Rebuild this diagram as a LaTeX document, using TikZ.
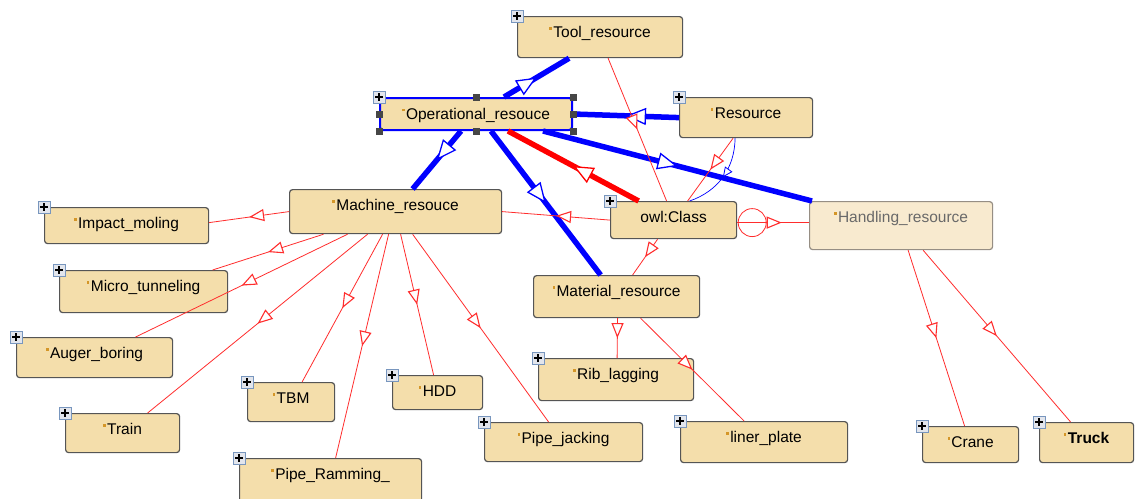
\documentclass[tikz,border=0pt]{standalone}
\usepackage{fontspec}
\setsansfont{Liberation Sans}
\usetikzlibrary{positioning,arrows.meta,decorations.markings}

\definecolor{boxfill}{RGB}{244,222,171}
\definecolor{boxline}{RGB}{85,85,85}
\definecolor{fadefill}{RGB}{248,234,207}
\definecolor{fadeline}{RGB}{150,142,132}
\definecolor{fadetext}{RGB}{105,105,105}
\definecolor{plusfill}{RGB}{226,229,236}
\definecolor{plusline}{RGB}{120,150,190}
\definecolor{dotc}{RGB}{212,150,40}
\definecolor{linered}{RGB}{255,45,45}
\definecolor{handlec}{RGB}{70,70,70}

\newcommand{\markdot}{{\color{dotc}\raisebox{0.5em}{\rule{2.4pt}{2.4pt}}}\hspace{1.5pt}}

\begin{document}
\begin{tikzpicture}[x=1pt, y=-1pt, font=\sffamily\fontsize{15.5}{18}\selectfont]
\tikzset{
  cls/.style={draw=boxline, fill=boxfill, rounded corners=3pt, line width=1.2pt, anchor=north west,
    inner xsep=4pt, inner ysep=9pt, text height=12pt},
  faded/.style={cls, draw=fadeline, fill=fadefill, text=fadetext},
  sel/.style={draw=blue, line width=2pt},
  plusbox/.style={anchor=center, sharp corners, draw=plusline, fill=plusfill, line width=0.9pt,
    minimum size=12pt, inner sep=0pt, text height=0pt, text depth=0pt,
    path picture={
      \draw[black, line width=1.4pt] ([xshift=-3.6pt]path picture bounding box.center) -- ([xshift=3.6pt]path picture bounding box.center);
      \draw[black, line width=1.4pt] ([yshift=-3.6pt]path picture bounding box.center) -- ([yshift=3.6pt]path picture bounding box.center);
    }},
  expand/.style={label={[plusbox]north west:{}}},
  subc/.style={draw=linered, line width=0.8pt, postaction={decorate},
    decoration={markings, mark=at position #1 with {\arrow{Triangle[fill=white, length=15pt, width=12pt, line width=1.1pt 0]}}}},
  subc/.default=0.5,
  subcbold/.style={line width=5.5pt, postaction={decorate},
    decoration={markings, mark=at position 0.5 with {\arrow{Triangle[fill=white, length=20pt, width=17pt, line width=1.3pt 0]}}}}
}
\useasboundingbox (0,0) rectangle (1135,498);
\fill[white] (0,0) rectangle (1135,498);
\clip (0,0) rectangle (1135,498);

% classes
\node[cls, expand, minimum width=165pt, text depth=11pt] (tool) at (517,16) {\markdot Tool\_resource};
\node[cls, sel, expand, minimum width=192pt, text depth=2pt] (oper) at (379,97) {\markdot Operational\_resouce};
\node[cls, expand, minimum width=133pt, text depth=10pt] (res) at (679,97) {\markdot Resource};
\node[cls, minimum width=212pt, text depth=14pt] (mach) at (289,189) {\markdot Machine\_resouce};
\node[cls, expand, minimum width=126pt, text depth=7pt] (owl) at (610,201) {owl:Class};
\node[faded, minimum width=183pt, text depth=18pt] (hand) at (809,201) {\markdot Handling\_resource};
\node[cls, minimum width=166pt, text depth=12pt] (mat) at (533,275) {\markdot Material\_resource};

\node[cls, expand, minimum width=164pt, text depth=6pt] (impact) at (44,207) {\markdot Impact\_moling};
\node[cls, expand, minimum width=168pt, text depth=12pt] (micro) at (59,270) {\markdot Micro\_tunneling};
\node[cls, expand, minimum width=156pt, text depth=10pt] (auger) at (16,337) {\markdot Auger\_boring};
\node[cls, expand, minimum width=114pt, text depth=9pt] (train) at (65,413) {\markdot Train};
\node[cls, expand, minimum width=87pt, text depth=9pt] (tbm) at (247,382) {\markdot TBM};
\node[cls, expand, minimum width=90pt, text depth=4pt] (hdd) at (392,375) {\markdot HDD};
\node[cls, expand, minimum width=158pt, text depth=9pt] (jack) at (484,422) {\markdot Pipe\_jacking};
\node[cls, expand, minimum width=182pt, text depth=20pt] (ramm) at (239,458) {\markdot Pipe\_Ramming\_};
\node[cls, expand, minimum width=155pt, text depth=12pt] (rib) at (538,358) {\markdot Rib\_lagging};
\node[cls, expand, minimum width=167pt, text depth=11pt] (liner) at (680,421) {\markdot liner\_plate};
\node[cls, expand, minimum width=96pt, text depth=6pt] (crane) at (922,426) {\markdot Crane};
\node[cls, expand, minimum width=94pt, text depth=10pt] (truck) at (1039,422) {\markdot\textbf{Truck}};

% thick subclass links
\draw[subcbold, blue] ([xshift=28pt]oper.north) -- ([xshift=-31pt]tool.south);
\draw[subcbold, blue] (res.west) -- (oper.east);
\draw[subcbold, blue] ([xshift=-15pt]oper.south) -- ([xshift=17pt]mach.north);
\draw[subcbold, blue] ([xshift=15pt]oper.south) -- ([xshift=-16pt]mat.north);
\draw[subcbold, blue] ([xshift=67pt]oper.south) -- ([xshift=3pt]hand.north west);
\draw[subcbold, red] ([xshift=-35pt]owl.north) -- ([xshift=32pt]oper.south);

% thin subclass links
\draw[subc] ([xshift=8pt]tool.south) -- ([xshift=-7pt]owl.north);
\draw[subc] ([xshift=-13pt]res.south) -- ([xshift=14pt]owl.north);
\draw[blue, line width=0.7pt, postaction={decorate},
  decoration={markings, mark=at position 0.5 with {\arrow{Triangle[fill=white, length=10pt, width=9pt, line width=0.8pt 0]}}}]
  ([xshift=-11pt]res.south) to[bend left=35] ([xshift=16pt]owl.north);
\draw[subc] (owl.west) -- (mach.east);
\draw[subc] ([xshift=-16pt]owl.south) -- ([xshift=16pt]mat.north);
\draw[subc=0.62] ([yshift=-2.5pt]owl.east) -- ([yshift=3pt]hand.west);
\draw[linered, line width=0.8pt] ([xshift=15pt, yshift=-2.5pt]owl.east) circle (14pt);

\draw[subc] (mach.west) -- ([yshift=3pt]impact.east);
\draw[subc] ([xshift=-72pt]mach.south) -- ([xshift=69pt]micro.north);
\draw[subc] ([xshift=-48pt]mach.south) -- ([xshift=41pt]auger.north);
\draw[subc] ([xshift=-28pt]mach.south) -- ([xshift=25pt]train.north);
\draw[subc] ([xshift=-13pt]mach.south) -- ([xshift=11pt]tbm.north);
\draw[subc] ([xshift=-7pt]mach.south) -- ([xshift=5pt]ramm.north);
\draw[subc] ([xshift=5pt]mach.south) -- ([xshift=-4pt]hdd.north);
\draw[subc] ([xshift=17pt]mach.south) -- ([xshift=-15pt]jack.north);

\draw[subc] ([xshift=1pt]mat.south) -- ([xshift=1pt]rib.north);
\draw[subc] ([xshift=24pt]mat.south) -- ([xshift=-20pt]liner.north);

\draw[subc] ([xshift=7pt]hand.south) -- ([xshift=-6pt]crane.north);
\draw[subc] ([xshift=22pt]hand.south) -- ([xshift=-16pt]truck.north);

% selection handles
\foreach \a in {north, north east, east, south east, south, south west, west}
  \fill[handlec] (oper.\a) ++(-3.5pt,-3.5pt) rectangle ++(7pt,7pt);
\end{tikzpicture}
\end{document}
